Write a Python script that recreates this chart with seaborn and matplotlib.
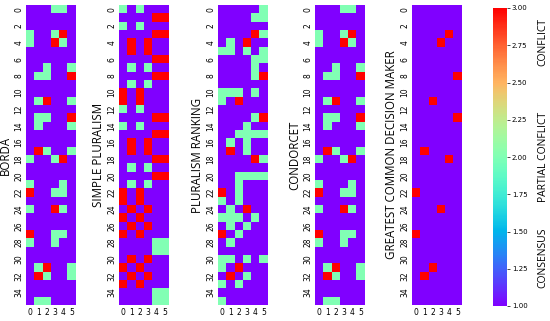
import numpy as np
import matplotlib
matplotlib.use('Agg')
import matplotlib.pyplot as plt
import seaborn as sns

# 1 = consensus, 2 = partial conflict, 3 = conflict (rows 0..35, cols 0..5)
borda = ['111221', '111111', '111111', '211231', '211321', '111111',
         '111111', '112112', '122113', '111111', '111111', '123112',
         '111111', '122113', '121112', '111111', '111111', '132112',
         '211231', '111111', '111111', '211121', '311221', '111111',
         '211321', '111111', '111111', '311221', '211211', '111111',
         '111111', '123112', '132112', '111111', '111111', '122111']

simple_pluralism = ['212111', '111133', '212111', '111133', '131311', '131311',
                    '111133', '121211', '111133', '121211', '313111', '313111',
                    '212111', '111133', '212111', '111133', '131311', '131311',
                    '111133', '121211', '111133', '121211', '313111', '313111',
                    '131311', '313111', '131311', '313111', '111122', '111122',
                    '131311', '313111', '131311', '313111', '111122', '111122']

pluralism_ranking = ['111112', '111122', '111111', '111132', '121311', '221212',
                     '111122', '111121', '111123', '111111', '222121', '213111',
                     '111111', '111123', '111211', '112222', '121211', '131211',
                     '111132', '111111', '112222', '112111', '312111', '212111',
                     '121311', '222121', '121211', '312111', '121111', '111111',
                     '221212', '213111', '131211', '212111', '111111', '211111']

condorcet = list(borda)

gcdm = ['111111', '111111', '111111', '111131', '111311', '111111',
        '111111', '111111', '111113', '111111', '111111', '113111',
        '111111', '111113', '111111', '111111', '111111', '131111',
        '111131', '111111', '111111', '111111', '311111', '111111',
        '111311', '111111', '111111', '311111', '111111', '111111',
        '111111', '113111', '131111', '111111', '111111', '111111']

methods = ['BORDA', 'SIMPLE PLURALISM', 'PLURALISM RANKING', 'CONDORCET',
           'GREATEST COMMON DECISION MAKER']
grids = [borda, simple_pluralism, pluralism_ranking, condorcet, gcdm]
state_labels = ['CONFLICT', 'PARTIAL CONFLICT', 'CONSENSUS']


def to_grid(rows):
    return np.array([[int(c) for c in r] for r in rows])


W, H = 550, 321


def box(x0, y0, x1, y1):
    return [x0 / W, 1 - y1 / H, (x1 - x0) / W, (y1 - y0) / H]


fig = plt.figure(figsize=(5.5, 3.21), dpi=100)
lefts = [26, 119, 218, 315, 412]
cax = fig.add_axes(box(493, 8, 507, 306))

for i, (name, rows) in enumerate(zip(methods, grids)):
    ax = fig.add_axes(box(lefts[i], 5, lefts[i] + 49.5, 305))
    last = i == len(methods) - 1
    sns.heatmap(to_grid(rows), ax=ax, cmap='rainbow', vmin=1, vmax=3,
                cbar=last, cbar_ax=cax if last else None,
                xticklabels=1, yticklabels=2)
    ax.tick_params(length=0, labelsize=5.5, pad=2)
    ax.set_yticklabels(ax.get_yticklabels(), rotation=90, va='center')
    ax.set_xticklabels(ax.get_xticklabels(), rotation=0)
    ax.set_ylabel(name, fontsize=8.3, family='Open Sans', labelpad=1.5)

cax.tick_params(labelsize=5, length=2, width=0.5, pad=1.5)
cax.set_yticks(np.arange(1, 3.01, 0.25))
cax.set_yticklabels(['%.2f' % v for v in np.arange(1, 3.01, 0.25)])

for label, y in zip(state_labels, [42, 157, 258]):
    fig.text(543 / W, 1 - y / H, label, rotation=90, ha='center', va='center',
             fontsize=7.5, family='Open Sans')

fig.savefig('out.png', dpi=100)
